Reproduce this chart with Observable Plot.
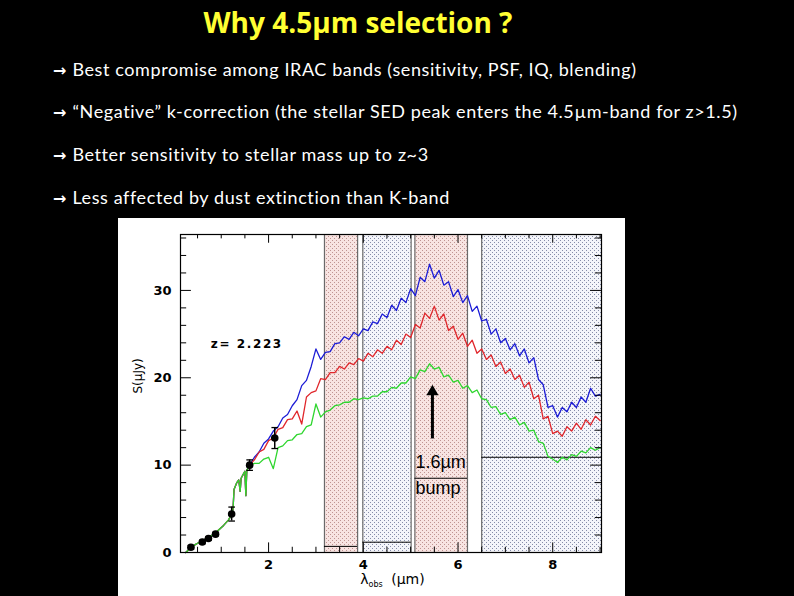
<!DOCTYPE html>
<html><head><meta charset="utf-8">
<script src="https://cdn.jsdelivr.net/npm/d3@7"></script>
<script src="https://cdn.jsdelivr.net/npm/@observablehq/plot@0.6"></script>
<style>
html,body{margin:0;padding:0;background:#000;width:794px;height:596px;overflow:hidden;}
#title{position:absolute;left:0;width:716px;top:4px;text-align:center;color:#ffff33;font:bold 28px "Open Sans";line-height:36px;}
.b{position:absolute;left:53px;color:#fff;font:18px Lato;letter-spacing:0.6px;line-height:20px;white-space:nowrap;}
.b .ar{font-family:"DejaVu Sans";font-weight:bold;font-size:16px;margin-right:6px;letter-spacing:0;}
#chart{position:absolute;left:118px;top:218px;width:507px;height:378px;background:#fff;}
</style></head><body>
<svg width="0" height="0" style="position:absolute"><defs>
<pattern id="pinkDots" width="4" height="4" patternUnits="userSpaceOnUse"><rect width="4" height="4" fill="#f8e4e2"/><rect x="0" y="0" width="1" height="1" fill="#bf9492"/><rect x="2" y="2" width="1" height="1" fill="#bf9492"/></pattern>
<pattern id="blueDots" width="4" height="4" patternUnits="userSpaceOnUse"><rect width="4" height="4" fill="#f4f5fa"/><rect x="0" y="0" width="1" height="1" fill="#868ca8"/><rect x="2" y="2" width="1" height="1" fill="#868ca8"/></pattern>
</defs></svg>
<div id="title">Why 4.5µm selection ?</div>
<div class="b" style="top:59px"><span class="ar">→</span>Best compromise among IRAC bands (sensitivity, PSF, IQ, blending)</div>
<div class="b" style="top:101px"><span class="ar">→</span>“Negative” k-correction (the stellar SED peak enters the 4.5µm-band for z&gt;1.5)</div>
<div class="b" style="top:144px"><span class="ar">→</span>Better sensitivity to stellar mass up to z~3</div>
<div class="b" style="top:187px"><span class="ar">→</span>Less affected by dust extinction than K-band</div>
<div id="chart"></div>
<script>
// shared short-wavelength part of the three spectra (µm, µJy)
const lamLow = [0.25,0.35,0.45,0.55,0.65,0.75,0.85,0.95,1.05,1.15,1.22,1.25,1.27,1.30,1.33,1.37,1.40,1.42,1.47,1.50,1.52,1.54,1.58];
const sLow   = [0.0,0.5,0.9,1.2,1.5,1.8,2.1,2.6,3.1,3.7,4.3,5.0,7.2,7.6,8.0,8.3,7.0,8.5,9.0,9.3,6.5,9.4,9.8];
// long-wavelength part
const lam = [1.6,1.7,1.8,1.9,2.0,2.1,2.2,2.3,2.4,2.5,2.6,2.7,2.8,2.9,3.0,3.1,3.2,3.3,3.4,3.5,3.6,3.7,3.8,3.9,4.0,4.1,4.2,4.3,4.4,4.5,4.6,4.7,4.8,4.9,5.0,5.1,5.2,5.3,5.4,5.5,5.6,5.7,5.8,5.9,6.0,6.1,6.2,6.3,6.4,6.5,6.6,6.7,6.8,6.9,7.0,7.1,7.2,7.3,7.4,7.5,7.6,7.7,7.8,7.9,8.0,8.1,8.2,8.3,8.4,8.5,8.6,8.7,8.8,8.9,9.0];
const blueS = [10.0,10.9,11.5,12.5,13.0,13.9,14.4,15.4,15.8,16.8,17.5,19.1,19.7,21.3,23.3,22.1,22.9,23.0,23.9,24.0,24.7,24.4,25.2,24.8,25.6,25.4,26.4,26.2,27.3,26.9,28.3,27.7,29.1,28.6,30.2,29.4,31.5,31.0,33.0,31.4,32.3,30.6,31.0,29.3,30.1,28.6,29.4,27.6,28.2,26.5,26.7,25.0,25.6,24.0,24.5,23.2,23.9,22.5,23.3,21.7,22.3,19.8,19.2,16.6,16.8,15.5,16.6,16.1,17.2,16.6,17.8,17.2,18.8,17.9,18.1];
const redS = [10.0,10.6,11.5,11.8,12.8,13.1,14.1,14.3,15.2,15.3,16.2,14.7,17.8,18.3,18.5,19.9,19.8,20.6,20.6,21.3,21.0,21.7,21.5,22.2,21.9,22.8,22.4,23.2,22.8,23.6,23.2,24.3,23.8,25.0,24.6,26.1,25.7,27.4,26.8,28.2,26.6,27.3,25.4,25.9,24.4,25.1,23.6,24.3,22.8,23.3,22.1,22.6,21.3,21.8,20.5,21.0,19.8,20.3,18.9,19.5,17.6,18.0,15.3,15.6,13.6,13.9,13.3,14.4,13.9,14.8,14.1,15.2,14.6,15.6,15.1];
const greenS = [9.9,10.2,10.2,10.7,10.9,9.6,12.0,12.2,12.8,12.9,13.5,13.6,14.4,14.6,17.0,15.5,16.1,16.3,16.8,16.9,17.2,17.2,17.6,17.5,17.7,17.6,17.9,17.9,18.4,18.4,18.9,18.8,19.4,19.4,20.1,19.9,20.9,20.7,21.6,21.0,21.2,20.1,20.3,19.5,19.7,18.8,19.1,18.3,18.6,17.6,17.5,16.6,16.7,15.8,16.0,15.2,15.5,14.6,14.9,13.9,14.0,12.7,12.5,11.0,10.7,10.3,10.9,10.6,11.2,11.0,11.6,11.4,12.0,11.7,12.0];
// photometry
const phLam = [0.36,0.6,0.73,0.88,1.22,1.6,2.13];
const phS   = [0.6,1.2,1.6,2.1,4.4,10.0,13.1];
const phErr = [0.2,0.2,0.2,0.2,0.8,0.6,1.2];
// IRAC bands
const bandStart = [3.18,3.99,5.09,6.5];
const bandEnd   = [3.88,5.01,6.2,9.4];
const bandKind  = ["pink","blue","pink","blue"];
const bandLevel = [0.7,1.18,8.5,10.9];
// ticks
const xMajor = [2,4,6,8];
const xMinor = [0.5,1,1.5,2.5,3,3.5,4.5,5,5.5,6.5,7,7.5,8.5,9];
const yMajor = [0,10,20,30];
const yMinor = [2,4,6,8,12,14,16,18,22,24,26,28,32,34,36];

const X0 = 0.14, X1 = 9.03, Y0 = 0, Y1 = 36.4;
const mk = ys => lamLow.map((l,i)=>({l, s:sLow[i]})).concat(lam.map((l,i)=>({l, s:ys[i]})));
const bands = bandStart.map((s,i)=>({s, e:bandEnd[i], k:bandKind[i], lev:bandLevel[i]}));
const phot = phLam.map((l,i)=>({l, s:phS[i], err:phErr[i]}));

const plot = Plot.plot({
  width: 507, height: 378,
  marginLeft: 62, marginRight: 24, marginTop: 16, marginBottom: 44,
  style: {background:"#fff", color:"#000", fontFamily:"DejaVu Sans", fontSize:"12px"},
  x: {domain:[X0,X1], axis:null},
  y: {domain:[Y0,Y1], axis:null},
  marks: [
    Plot.rect(bands.filter(d=>d.k==="pink"), {x1:"s", x2:"e", y1:Y0, y2:Y1, fill:"url(#pinkDots)", clip:true}),
    Plot.rect(bands.filter(d=>d.k==="blue"), {x1:"s", x2:"e", y1:Y0, y2:Y1, fill:"url(#blueDots)", clip:true}),
    Plot.ruleX(bandStart.concat(bandEnd), {stroke:"#6a6a6a", strokeWidth:1.2, clip:true}),
    Plot.ruleY(bands, {y:"lev", x1:"s", x2:d=>Math.min(d.e,X1), stroke:"#000", strokeWidth:1}),
    Plot.line(mk(blueS), {x:"l", y:"s", stroke:"#1c1cd6", strokeWidth:1.3}),
    Plot.line(mk(redS), {x:"l", y:"s", stroke:"#e0262b", strokeWidth:1.3}),
    Plot.line(mk(greenS), {x:"l", y:"s", stroke:"#2fd62f", strokeWidth:1.3}),
    Plot.ruleX(phot, {x:"l", y1:d=>d.s-d.err, y2:d=>d.s+d.err, stroke:"#000", strokeWidth:1.5}),
    Plot.link(phot, {x1:d=>d.l-0.07, x2:d=>d.l+0.07, y1:d=>d.s-d.err, y2:d=>d.s-d.err, stroke:"#000", strokeWidth:1.3}),
    Plot.link(phot, {x1:d=>d.l-0.07, x2:d=>d.l+0.07, y1:d=>d.s+d.err, y2:d=>d.s+d.err, stroke:"#000", strokeWidth:1.3}),
    Plot.dot(phot, {x:"l", y:"s", r:3.8, fill:"#000"}),
    // ticks (inward, all four sides)
    Plot.ruleX(xMinor, {y1:Y0, y2:Y0+0.6, stroke:"#000"}),
    Plot.ruleX(xMajor, {y1:Y0, y2:Y0+1.1, stroke:"#000"}),
    Plot.ruleX(xMinor, {y1:Y1, y2:Y1-0.5, stroke:"#000"}),
    Plot.ruleX(xMajor, {y1:Y1, y2:Y1-1.0, stroke:"#000"}),
    Plot.ruleY(yMinor, {x1:X0, x2:X0+0.13, stroke:"#000"}),
    Plot.ruleY(yMajor, {x1:X0, x2:X0+0.23, stroke:"#000"}),
    Plot.ruleY(yMinor, {x1:X1, x2:X1-0.13, stroke:"#000"}),
    Plot.ruleY(yMajor, {x1:X1, x2:X1-0.23, stroke:"#000"}),
    Plot.frame({stroke:"#000", strokeWidth:1.2}),
    Plot.axisX(xMajor, {tickSize:0, tickPadding:7, fontWeight:"bold", fontSize:13, label:null}),
    Plot.axisY(yMajor, {tickSize:0, tickPadding:9, fontWeight:"bold", fontSize:13, label:null}),
    Plot.text(["S(µJy)"], {frameAnchor:"left", dx:-42, rotate:-90, fontSize:12}),
    Plot.text(["z= 2.223"], {x:[0.78], y:[23.9], textAnchor:"start", fontSize:12, fontWeight:"bold", className:"zlab"}),
    Plot.text(["1.6µm"], {x:[5.1], y:[10.3], textAnchor:"start", fontSize:18, fontFamily:"Liberation Sans"}),
    Plot.text(["bump"], {x:[5.1], y:[7.4], textAnchor:"start", fontSize:18, fontFamily:"Liberation Sans"}),
    Plot.ruleX([5.46], {y1:13.0, y2:18.0, stroke:"#000", strokeWidth:3}),
    Plot.dot([5.46], {x:d=>d, y:[18.4], symbol:"triangle", r:4.5, fill:"#000", stroke:"none"})
  ]
});
document.getElementById("chart").appendChild(plot);
const svg = d3.select(plot);
svg.selectAll(".zlab text").attr("letter-spacing", "1.6px");
// x-axis label with subscript
const t = svg.append("text").attr("x", 62 + 421/2 + 2).attr("y", 378 - 12).attr("text-anchor","middle")
  .attr("font-family","DejaVu Sans").attr("font-size",14).attr("fill","#000");
t.append("tspan").text("λ");
t.append("tspan").attr("font-size",8).attr("dy",3).text("obs");
t.append("tspan").attr("dy",-3).attr("dx",4).text(" (µm)");
</script>
</body></html>
